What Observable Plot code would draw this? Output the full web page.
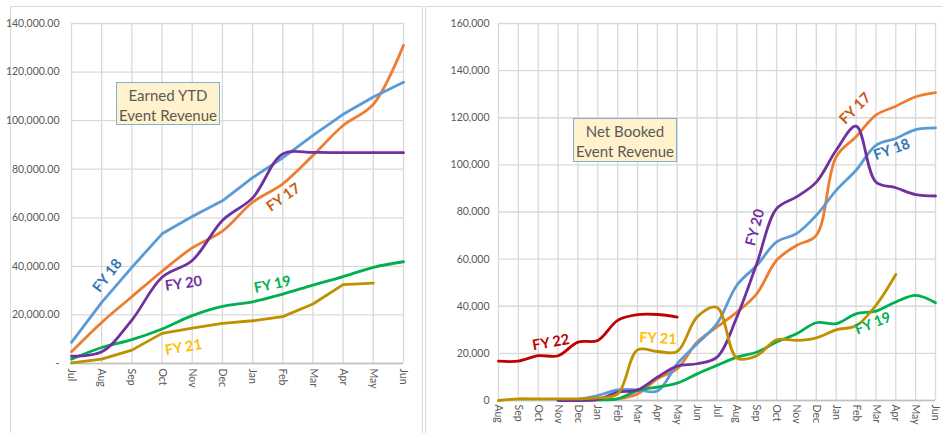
<!DOCTYPE html>
<html>
<head>
<meta charset="utf-8">
<script src="https://cdn.jsdelivr.net/npm/d3@7"></script>
<script src="https://cdn.jsdelivr.net/npm/@observablehq/plot@0.6"></script>
<style>
  html, body { margin: 0; padding: 0; background: #fff; }
  #wrap { position: relative; width: 942px; height: 433px; overflow: hidden; background: #fff; font-family: Lato, "Noto Sans", sans-serif; }
  .panel { position: absolute; top: 0; }
  .border { position: absolute; border: 1.5px solid #d9d9d9; box-sizing: border-box; }
  .titlebox { position: absolute; background: #fff2cc; border: 1.5px solid #7fb0dc; color: #595959; font-size: 15px; line-height: 20px; text-align: center; box-sizing: border-box; padding-top: 2px; }
</style>
</head>
<body>
<div id="wrap"></div>
<script>
// ---------- DATA ----------
const leftMonths = ["Jul","Aug","Sep","Oct","Nov","Dec","Jan","Feb","Mar","Apr","May","Jun"];
const earnedFY17 = [4800,16900,27500,38000,47600,54500,66400,74000,85700,98000,106700,131000];
const earnedFY18 = [8700,25200,39600,53400,60500,67000,76500,84700,93900,102600,109700,115800];
const earnedFY19 = [1800,6600,9800,14200,19700,23500,25400,28600,32300,35800,39600,41900];
const earnedFY20 = [3000,4800,17900,35500,42400,58900,68200,86300,86900,86800,86800,86800];
const earnedFY21 = [300,1800,5500,12400,14600,16500,17600,19300,24500,32500,33100];

const rightMonths = ["Aug","Sep","Oct","Nov","Dec","Jan","Feb","Mar","Apr","May","Jun","Jul","Aug","Sep","Oct","Nov","Dec","Jan","Feb","Mar","Apr","May","Jun"];
const bookedFY17 = [null,null,null,null,0,300,700,2800,9200,13500,24800,31200,37500,45300,59500,65800,70100,103400,111900,121100,124900,128900,130700];
const bookedFY18 = [null,null,null,null,500,2100,4500,4500,4000,15600,24100,32600,48900,57300,67300,70800,78600,89200,97700,108300,111200,115000,115700];
const bookedFY19 = [null,null,null,0,0,300,700,4200,5700,7400,11300,14900,18400,20500,24800,28300,33000,32600,36800,37900,41800,44600,41500];
const bookedFY20 = [null,null,null,0,0,500,3500,4500,9900,14600,15600,18400,35400,58000,81400,86400,92700,106200,116400,92700,90300,87400,86800];
const bookedFY21 = [0,700,700,700,700,1100,2800,21500,20800,20800,35500,39500,18000,19000,25800,25500,26600,30000,31700,40400,53500,null,null];
const bookedFY22 = [16700,16700,19000,19000,24800,25500,34000,36400,36500,35400,null,null,null,null,null,null,null,null,null,null,null,null,null];

const lineColors = {"FY 17":"#ed7d31","FY 18":"#5b9bd5","FY 19":"#00b050","FY 20":"#7030a0","FY 21":"#bf9000","FY 22":"#c00000"};
const labelColors = {"FY 17":"#c55a11","FY 18":"#2e75b6","FY 19":"#00b050","FY 20":"#7030a0","FY 21":"#ffc000","FY 22":"#c00000"};

// annotation labels (data space: month index, value, angle)
const leftLabels = [
  {name:"FY 18", i:1.19, v:36200, a:-52},
  {name:"FY 20", i:3.71, v:32900, a:-8},
  {name:"FY 17", i:7.02, v:68400, a:-35},
  {name:"FY 19", i:6.66, v:32500, a:-12},
  {name:"FY 21", i:3.71, v:6600, a:-10}
];
const rightLabels = [
  {name:"FY 22", i:2.64, v:24600, a:-10},
  {name:"FY 21", i:8.03, v:26300, a:3},
  {name:"FY 20", i:12.92, v:73400, a:-75},
  {name:"FY 17", i:17.96, v:123900, a:-45},
  {name:"FY 18", i:19.8, v:106500, a:-20},
  {name:"FY 19", i:18.85, v:32700, a:-22}
];

// ---------- BUILD ----------
function tidy(name, arr) {
  return arr.map((v, i) => ({name, i, v})).filter(d => d.v != null);
}
const leftSeries = [["FY 17",earnedFY17,"catmull-rom"],["FY 18",earnedFY18,"linear"],["FY 19",earnedFY19,"catmull-rom"],["FY 20",earnedFY20,"catmull-rom"],["FY 21",earnedFY21,"linear"]];
const rightSeries = [["FY 17",bookedFY17],["FY 18",bookedFY18],["FY 19",bookedFY19],["FY 20",bookedFY20],["FY 21",bookedFY21],["FY 22",bookedFY22]];

const wrap = document.getElementById("wrap");
const font = "Lato, 'Noto Sans', sans-serif";

function labelMark(labels) {
  return labels.map(d => Plot.text([d], {
    x: "i", y: "v", text: "name", rotate: d.a,
    fill: labelColors[d.name], fontSize: 14.5, fontWeight: "bold", fontFamily: font
  }));
}

const leftPlot = Plot.plot({
  width: 420, height: 433,
  marginLeft: 71, marginRight: 17, marginTop: 23, marginBottom: 70,
  style: {fontFamily: font, fontSize: "10.5px", color: "#595959", background: "transparent"},
  x: {type: "linear", domain: [0, 11]},
  y: {domain: [0, 140000]},
  marks: [
    Plot.gridX(d3.range(leftMonths.length), {stroke: "#d9d9d9", strokeOpacity: 1, strokeWidth: 1.3}),
    Plot.gridY(d3.range(0, 140001, 20000), {stroke: "#d9d9d9", strokeOpacity: 1, strokeWidth: 1.3}),
    Plot.ruleY([0], {stroke: "#bfbfbf", strokeWidth: 1.3}),
    Plot.axisY(d3.range(0, 140001, 20000), {tickSize: 0, tickPadding: 12, label: null,
      tickFormat: v => v === 0 ? "-" : d3.format(",.2f")(v), fill: "#595959"}),
    Plot.axisX(d3.range(leftMonths.length), {tickSize: 0, tickPadding: 5, tickRotate: 90, label: null,
      tickFormat: i => leftMonths[i], fill: "#595959"}),
    ...leftSeries.map(([n, arr, c]) => Plot.line(tidy(n, arr), {x: "i", y: "v", stroke: lineColors[n], strokeWidth: 2.8, curve: c})),
    ...labelMark(leftLabels)
  ]
});

const rightPlot = Plot.plot({
  width: 522, height: 433,
  marginLeft: 78, marginRight: 7, marginTop: 23, marginBottom: 33,
  style: {fontFamily: font, fontSize: "10.5px", color: "#595959", background: "transparent"},
  x: {type: "linear", domain: [0, 22]},
  y: {domain: [0, 160000]},
  marks: [
    Plot.gridX(d3.range(rightMonths.length), {stroke: "#d9d9d9", strokeOpacity: 1, strokeWidth: 1.3}),
    Plot.gridY(d3.range(0, 160001, 20000), {stroke: "#d9d9d9", strokeOpacity: 1, strokeWidth: 1.3}),
    Plot.ruleY([0], {stroke: "#bfbfbf", strokeWidth: 1.3}),
    Plot.axisY(d3.range(0, 160001, 20000), {tickSize: 0, tickPadding: 9, label: null,
      tickFormat: d3.format(","), fill: "#595959"}),
    Plot.axisX(d3.range(rightMonths.length), {tickSize: 0, tickPadding: 4, tickRotate: 90, label: null,
      tickFormat: i => rightMonths[i], fill: "#595959"}),
    ...rightSeries.map(([n, arr]) => Plot.line(tidy(n, arr), {x: "i", y: "v", stroke: lineColors[n], strokeWidth: 2.8, curve: "catmull-rom"})),
    ...labelMark(rightLabels)
  ]
});

function addBorder(l, t, w, h) {
  const b = document.createElement("div");
  b.className = "border";
  Object.assign(b.style, {left: l + "px", top: t + "px", width: w + "px", height: h + "px"});
  wrap.appendChild(b);
}
addBorder(10, 6, 413, 440);
addBorder(425, 6, 530, 440);

const lp = document.createElement("div"); lp.className = "panel"; lp.style.left = "0px"; lp.appendChild(leftPlot); wrap.appendChild(lp);
const rp = document.createElement("div"); rp.className = "panel"; rp.style.left = "420px"; rp.appendChild(rightPlot); wrap.appendChild(rp);

function addTitle(l, t, w, h, lines) {
  const d = document.createElement("div");
  d.className = "titlebox";
  Object.assign(d.style, {left: l + "px", top: t + "px", width: w + "px", height: h + "px"});
  d.innerHTML = lines.join("<br>");
  wrap.appendChild(d);
}
addTitle(116, 82, 104, 43, ["Earned YTD", "Event Revenue"]);
addTitle(573, 118, 104, 44, ["Net Booked", "Event Revenue"]);
</script>
</body>
</html>
